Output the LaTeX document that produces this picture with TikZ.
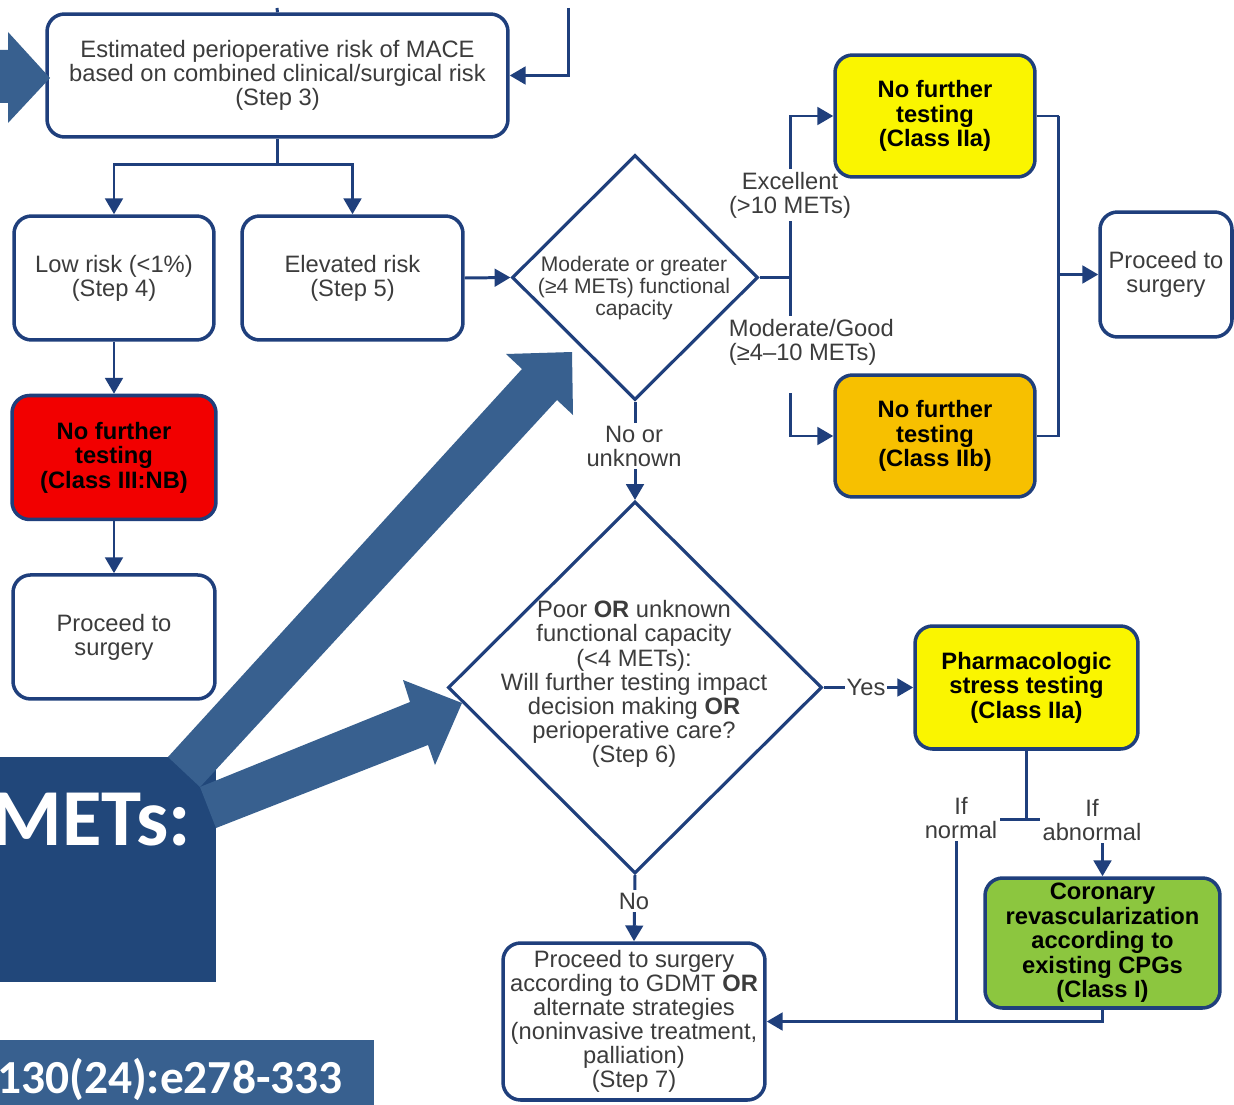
\documentclass[tikz,border=0pt]{standalone}
\usepackage{fontspec}
\setmainfont{Liberation Sans}
\newfontfamily\calibfont{Carlito}
\usetikzlibrary{positioning, arrows.meta, shapes.geometric, backgrounds}
\definecolor{flowblue}{HTML}{1F3F7C}
\definecolor{flowtext}{HTML}{3C3C3C}
\definecolor{testyellow}{HTML}{FAF500}
\definecolor{testorange}{HTML}{F7C000}
\definecolor{testred}{HTML}{F20000}
\definecolor{testgreen}{HTML}{8CC63F}
\definecolor{slideblue}{HTML}{38608F}
\definecolor{slidenavy}{HTML}{21477A}
\tikzset{
  flowbox/.style={
    rectangle, rounded corners=10pt,
    draw=flowblue, fill=white, line width=2pt,
    text=flowtext, align=center, inner sep=2pt,
    font=\fontsize{13.5}{13.7}\selectfont
  },
  classbox/.style={
    flowbox, text=black,
    font=\fontsize{13.5}{13.9}\selectfont\bfseries
  },
  decision/.style={
    diamond, draw=flowblue, fill=white,
    line width=1.8pt, inner sep=0pt
  },
  edgelabel/.style={
    fill=white, text=flowtext, align=center, inner sep=1.5pt,
    font=\fontsize{13.5}{13.7}\selectfont
  },
  link/.style={draw=flowblue, line width=1.7pt},
  arrow/.style={link, -{Triangle[length=9pt, width=10pt]}}
}

\begin{document}
\begin{tikzpicture}[x=0.02cm, y=-0.02cm, node distance=1.04cm]

\useasboundingbox (0,0) rectangle (1234,1105);

% ==============================================================================
% Risk estimate and split
% ==============================================================================
\node[flowbox, minimum width=9.22cm, minimum height=2.46cm] (risk) at (277.5,75.5) {
  Estimated perioperative risk of MACE\\
  based on combined clinical/surgical risk\\
  (Step 3)
};

\node[flowbox, minimum width=4cm, minimum height=2.48cm] (low) at (114,278) {
  Low risk (<1\%)\\(Step 4)
};

\node[flowbox, minimum width=4.42cm, minimum height=2.48cm] (elev) at (352.5,278) {
  Elevated risk\\(Step 5)
};

\node[classbox, fill=testred, minimum width=4.08cm, minimum height=2.48cm, below=of low] (nf3) {
  No further\\testing\\(Class III:NB)
};

\node[flowbox, minimum width=4.04cm, minimum height=2.48cm, below=of nf3] (go2) {
  Proceed to\\surgery
};

% ==============================================================================
% Functional capacity
% ==============================================================================
\node[decision, minimum width=4.92cm, minimum height=4.9cm] (fc) at (635,277.5) {};
\node[text=flowtext, align=center, font=\fontsize{12}{12.5}\selectfont] (fctext) at (634,288) {
  Moderate or greater\\(≥4 METs) functional\\capacity
};

\node[classbox, fill=testyellow, minimum width=4cm, minimum height=2.44cm] (nf1) at (935,116) {
  No further\\testing\\(Class IIa)
};

\node[classbox, fill=testorange, minimum width=4cm, minimum height=2.44cm] (nf2) at (935,436) {
  No further\\testing\\(Class IIb)
};

\node[flowbox, minimum width=2.64cm, minimum height=2.5cm] (go1) at (1166,274.5) {
  Proceed to\\surgery
};

% ==============================================================================
% Poor or unknown capacity
% ==============================================================================
\node[decision, minimum width=7.48cm, minimum height=7.44cm] (poor) at (635,687.5) {};
\node[text=flowtext, align=center, font=\fontsize{13.5}{13.7}\selectfont] (poortext) at (634,684) {
  Poor \textbf{OR} unknown\\
  functional capacity\\
  (<4 METs):\\
  Will further testing impact\\
  decision making \textbf{OR}\\
  perioperative care?\\
  (Step 6)
};

\node[classbox, fill=testyellow, minimum width=4.46cm, minimum height=2.46cm] (pharm) at (1026.5,687.5) {
  Pharmacologic\\stress testing\\(Class IIa)
};

\node[classbox, fill=testgreen, inner sep=1pt, minimum width=4.7cm, minimum height=2.6cm] (cabg) at (1102.5,943) {
  Coronary\\revascularization\\according to\\existing CPGs\\(Class I)
};

\node[flowbox, inner sep=1pt, minimum width=5.24cm, minimum height=3.14cm] (gdmt) at (634,1021.5) {
  Proceed to surgery\\
  according to GDMT \textbf{OR}\\
  alternate strategies\\
  (noninvasive treatment,\\
  palliation)\\
  (Step 7)
};

% ==============================================================================
% Connectors (behind the boxes)
% ==============================================================================
\begin{scope}[on background layer]
\fill[white] (0,0) rectangle (1234,1105);

\coordinate (fromtop) at (277,8);
\coordinate (fromright) at (568,8);
\draw[link] (fromtop) -- (risk.north);
\draw[arrow] (fromright) |- (risk.east);

\draw[link] (risk.south) -- ++(0,26) coordinate (split);
\draw[arrow] (split) -| (low.north);
\draw[arrow] (split) -| (elev.north);
\draw[arrow] (low.south) -- (nf3.north);
\draw[arrow] (nf3.south) -- (go2.north);

\draw[arrow] (elev.east) -- (fc.west);
\coordinate (fork) at (790,277.5);
\coordinate (modgap) at (790,393);
\draw[link] (fc.east) -- (fork);
\draw[arrow] (fork) |- (nf1.west);
\draw[link] (fork) -- ++(0,40);
\draw[arrow] (modgap) |- (nf2.west);

\draw[link] (nf1.east) -- ++(22,0) coordinate (merge);
\draw[link] (merge) |- (nf2.east);
\draw[arrow] (merge |- go1.west) -- (go1.west);

\draw[arrow] (fc.south) -- (poor.north);
\draw[arrow] (poor.east) -- (pharm.west);
\draw[arrow] (poor.south) -- (gdmt.north);

\draw[link] (pharm.south) -- ++(0,69) coordinate (tee);
\coordinate (normal) at ([xshift=-1.4cm]tee);
\draw[link] (normal) -- (tee -| cabg.north);
\draw[arrow] (tee -| cabg.north) -- (cabg.north);
\draw[link] (normal) -- (normal |- gdmt.east);
\draw[arrow] (cabg.south) |- (gdmt.east);

% edge labels
\node[edgelabel] (lblexc) at (790,195) {Excellent\\(>10 METs)};
\node[edgelabel, anchor=west, align=left] (lblmod) at (726,342) {Moderate/Good\\(≥4–10 METs)};
\node[edgelabel] (lblunk) at (634,446) {No or\\unknown};
\node[edgelabel, inner sep=1pt] (lblyes) at (866,687.5) {Yes};
\node[edgelabel] (lblno) at (634,901) {No};
\node[edgelabel] (lblnorm) at (961,818) {If\\normal};
\node[edgelabel] (lblabn) at (1092,820) {If\\abnormal};
\end{scope}

% ==============================================================================
% Slide overlay
% ==============================================================================
\fill[slideblue] (0,50) -- (8,50) -- (8,32) -- (50,78) -- (8,123) -- (8,103) -- (0,103) -- cycle;

\node[fill=slidenavy, inner sep=0pt, anchor=north west, minimum width=4.32cm, minimum height=4.5cm] (metsbox) at (0,757) {};
\node[fill=slideblue, inner sep=0pt, anchor=south west, minimum width=7.48cm, minimum height=1.3cm] (citebox) at (0,1105) {};

\fill[slideblue] (168,757) -- (522,369) -- (506,354) -- (572,352) -- (573,415) -- (557,400) -- (200,787) -- cycle;
\fill[slideblue] (200,787) -- (410,702) -- (403,680) -- (462,703) -- (435,765) -- (428,745) -- (216,828) -- cycle;

\node[anchor=base east, inner sep=0pt, text=white, font=\calibfont\bfseries\fontsize{46}{46}\selectfont] (metslbl) at (191,845) {METs:};
\node[anchor=base east, inner sep=0pt, text=white, font=\calibfont\bfseries\fontsize{27}{27}\selectfont] (citelbl) at (343,1093) {130(24):e278-333};

\end{tikzpicture}
\end{document}
